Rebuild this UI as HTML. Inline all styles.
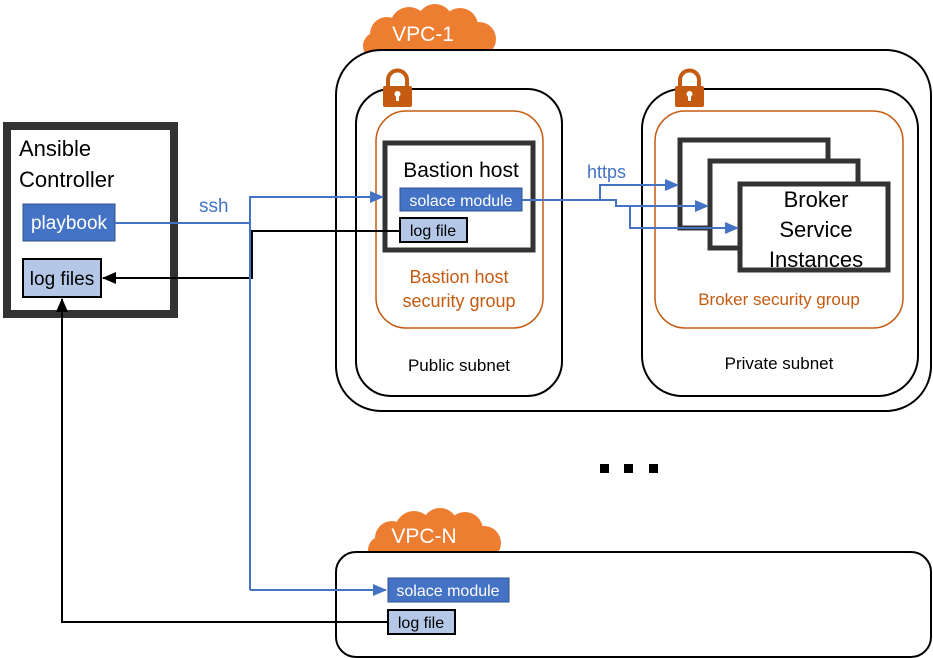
<!DOCTYPE html>
<html><head><meta charset="utf-8"><style>body{margin:0;background:#fff}svg{display:block}text{font-family:"Liberation Sans",sans-serif}</style></head><body>
<svg width="933" height="658" viewBox="0 0 933 658" xmlns="http://www.w3.org/2000/svg">
<defs>
<marker id="ab" markerWidth="14" markerHeight="12" refX="13" refY="6" orient="auto" markerUnits="userSpaceOnUse"><path d="M0,0 L14,6 L0,12 z" fill="#4472c4"/></marker>
<marker id="ak" markerWidth="14" markerHeight="12" refX="13" refY="6" orient="auto" markerUnits="userSpaceOnUse"><path d="M0,0 L14,6 L0,12 z" fill="#000"/></marker>
<g id="lock"><path d="M5,18 V11 a9.5,9.5 0 0 1 19,0 V18" fill="none" stroke="#c55a11" stroke-width="4"/><rect x="0" y="17" width="29" height="21" rx="2" fill="#c55a11"/><circle cx="14.5" cy="25" r="3" fill="#fff"/><rect x="13" y="26" width="3" height="6" fill="#fff"/></g>
<g id="cloud" fill="#ed7d31"><circle cx="22" cy="40" r="14"/><circle cx="32" cy="28" r="17"/><circle cx="54" cy="20" r="19"/><circle cx="80" cy="16" r="18"/><circle cx="105" cy="20" r="18"/><circle cx="124" cy="33" r="17"/><rect x="14" y="30" width="124" height="24"/></g>
</defs>
<use href="#cloud" x="355" y="6"/>
<rect x="336" y="50" width="595" height="361" rx="45" fill="#fff" stroke="#000" stroke-width="2"/>
<text x="423" y="41" font-size="21" fill="#fff" text-anchor="middle">VPC-1</text>
<rect x="356" y="89" width="206" height="307" rx="35" fill="#fff" stroke="#000" stroke-width="2"/>
<rect x="642" y="89" width="276" height="307" rx="40" fill="#fff" stroke="#000" stroke-width="2"/>
<use href="#lock" x="383" y="69"/>
<use href="#lock" x="675" y="69"/>
<rect x="376" y="111" width="167" height="217" rx="30" fill="#fff" stroke="#c55a11" stroke-width="1.5"/>
<rect x="655" y="111" width="248" height="217" rx="30" fill="#fff" stroke="#c55a11" stroke-width="1.5"/>
<text x="459" y="283" font-size="18" fill="#c55a11" text-anchor="middle">Bastion host</text>
<text x="459" y="307" font-size="18" fill="#c55a11" text-anchor="middle">security group</text>
<text x="779" y="305" font-size="17" fill="#c55a11" text-anchor="middle">Broker security group</text>
<text x="459" y="371" font-size="17" text-anchor="middle">Public subnet</text>
<text x="779" y="369" font-size="17" text-anchor="middle">Private subnet</text>
<rect x="385" y="143" width="148" height="107" fill="#fff" stroke="#333" stroke-width="5"/>
<text x="461" y="177" font-size="21" text-anchor="middle">Bastion host</text>
<rect x="400" y="188" width="122" height="23" fill="#4472c4" stroke="#2f528f"/>
<text x="461" y="206" font-size="16" fill="#fff" text-anchor="middle">solace module</text>
<rect x="400" y="218" width="67" height="24" fill="#b4c7e7" stroke="#000" stroke-width="2"/>
<text x="433" y="236" font-size="16" text-anchor="middle">log file</text>
<rect x="680" y="140" width="148" height="88" fill="#fff" stroke="#333" stroke-width="5"/>
<rect x="710" y="161" width="148" height="87" fill="#fff" stroke="#333" stroke-width="5"/>
<rect x="740" y="184" width="148" height="86" fill="#fff" stroke="#333" stroke-width="5"/>
<text x="816" y="207" font-size="22" text-anchor="middle">Broker</text>
<text x="816" y="237" font-size="22" text-anchor="middle">Service</text>
<text x="816" y="267" font-size="22" text-anchor="middle">Instances</text>
<text x="587" y="178" font-size="18" fill="#4472c4">https</text>
<g fill="none" stroke="#4472c4" stroke-width="2">
<path d="M522,200 H616 V206 H630 V228 H738" marker-end="url(#ab)"/>
<path d="M600,200 V185 H678" marker-end="url(#ab)"/>
<path d="M616,206 H708" marker-end="url(#ab)"/>
</g>
<rect x="600" y="464" width="9" height="9"/><rect x="624" y="464" width="9" height="9"/><rect x="649" y="464" width="9" height="9"/>
<use href="#cloud" x="360" y="510"/>
<rect x="336" y="552" width="595" height="105" rx="20" fill="#fff" stroke="#000" stroke-width="2"/>
<text x="424" y="543" font-size="21" fill="#fff" text-anchor="middle">VPC-N</text>
<rect x="388" y="578" width="121" height="24" fill="#4472c4" stroke="#2f528f"/>
<text x="448" y="596" font-size="16" fill="#fff" text-anchor="middle">solace module</text>
<rect x="388" y="610" width="67" height="24" fill="#b4c7e7" stroke="#000" stroke-width="2"/>
<text x="421" y="628" font-size="16" text-anchor="middle">log file</text>
<rect x="7" y="126" width="167" height="188" fill="#fff" stroke="#333" stroke-width="8"/>
<text x="19" y="156" font-size="22">Ansible</text>
<text x="19" y="187" font-size="22">Controller</text>
<rect x="23" y="204" width="92" height="37" fill="#4472c4" stroke="#2f528f"/>
<text x="69" y="229" font-size="19" fill="#fff" text-anchor="middle">playbook</text>
<rect x="23" y="259" width="78" height="38" fill="#b4c7e7" stroke="#000" stroke-width="2"/>
<text x="62" y="285" font-size="19" text-anchor="middle">log files</text>
<text x="199" y="212" font-size="19" fill="#4472c4">ssh</text>
<g fill="none" stroke="#000" stroke-width="2">
<path d="M400,231 H252 V278 H103" marker-end="url(#ak)"/>
<path d="M388,622 H62 V299" marker-end="url(#ak)"/>
</g>
<g fill="none" stroke="#4472c4" stroke-width="2">
<path d="M115,223 H251"/>
<path d="M250,590 V197 H383" marker-end="url(#ab)"/>
<path d="M250,590 H386" marker-end="url(#ab)"/>
</g>
</svg>
</body></html>
